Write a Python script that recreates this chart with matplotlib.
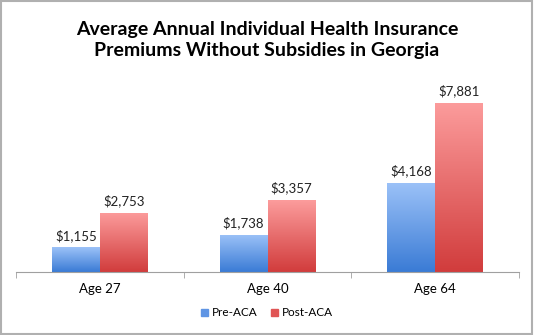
import numpy as np
from matplotlib import pyplot as plt
from matplotlib.colors import LinearSegmentedColormap
from matplotlib.patches import Rectangle

categories = ["Age 27", "Age 40", "Age 64"]
pre_aca = [1155, 1738, 4168]
post_aca = [2753, 3357, 7881]
series_names = ["Pre-ACA", "Post-ACA"]

plt.rcParams["font.family"] = ["Lato", "DejaVu Sans"]

fig = plt.figure(figsize=(5.34, 3.35), dpi=100)
ax = fig.add_axes([16 / 534, 1 - 272 / 335, (519 - 16) / 534, (272 - 79) / 335])

x = np.arange(len(categories))
width = 0.286
blue_map = LinearSegmentedColormap.from_list("b", ["#3a7bd5", "#9cc2f8"])
red_map = LinearSegmentedColormap.from_list("r", ["#d13c3c", "#fc9c9c"])

bars_pre = ax.bar(x - width / 2, pre_aca, width, color="#5f95e4", label=series_names[0])
bars_post = ax.bar(x + width / 2, post_aca, width, color="#e86565", label=series_names[1])

# gradient fill, clipped to each bar
grad = np.linspace(0, 1, 256).reshape(-1, 1)
for bars, cmap in [(bars_pre, blue_map), (bars_post, red_map)]:
    for b in bars:
        bx, by = b.get_x(), b.get_y()
        bw, bh = b.get_width(), b.get_height()
        im = ax.imshow(grad, cmap=cmap, origin="lower", aspect="auto",
                       extent=(bx, bx + bw, by, by + bh), zorder=2)
        im.set_clip_path(b)
        ax.text(bx + bw / 2, bh + 250, f"${bh:,.0f}", ha="center", va="bottom",
                fontsize=9.5, color="#222222")

ax.set_xlim(-0.5, len(categories) - 0.5)
ax.set_ylim(0, 9000)

for s in ["top", "right", "left"]:
    ax.spines[s].set_visible(False)
ax.spines["bottom"].set_color("#a0a0a0")
ax.set_yticks([])
ax.set_xticks(x)
ax.set_xticklabels(categories, fontsize=9.5)
ax.tick_params(axis="x", length=0, pad=8)
ax.set_xticks(np.arange(-0.5, len(categories)), minor=True)
ax.tick_params(axis="x", which="minor", length=4, color="#a0a0a0")

handles = [Rectangle((0, 0), 1, 1, color=c) for c in ["#5f95e4", "#e05555"]]
fig.legend(handles, series_names, loc="center", bbox_to_anchor=(0.5, 1 - 313 / 335),
           ncol=2, frameon=False, fontsize=8.5, handlelength=0.6, handleheight=0.6,
           handletextpad=0.3, columnspacing=1.2)

fig.text(0.5, 1 - 40 / 335, "Average Annual Individual Health Insurance\nPremiums Without Subsidies in Georgia",
         ha="center", va="center", fontsize=14, fontweight="bold", linespacing=1.3)

fig.patches.append(Rectangle((0.002, 0.003), 0.995, 0.994, transform=fig.transFigure,
                             fill=False, edgecolor="#b0b0b0", linewidth=1.5))

fig.savefig("out.png", dpi=100)
